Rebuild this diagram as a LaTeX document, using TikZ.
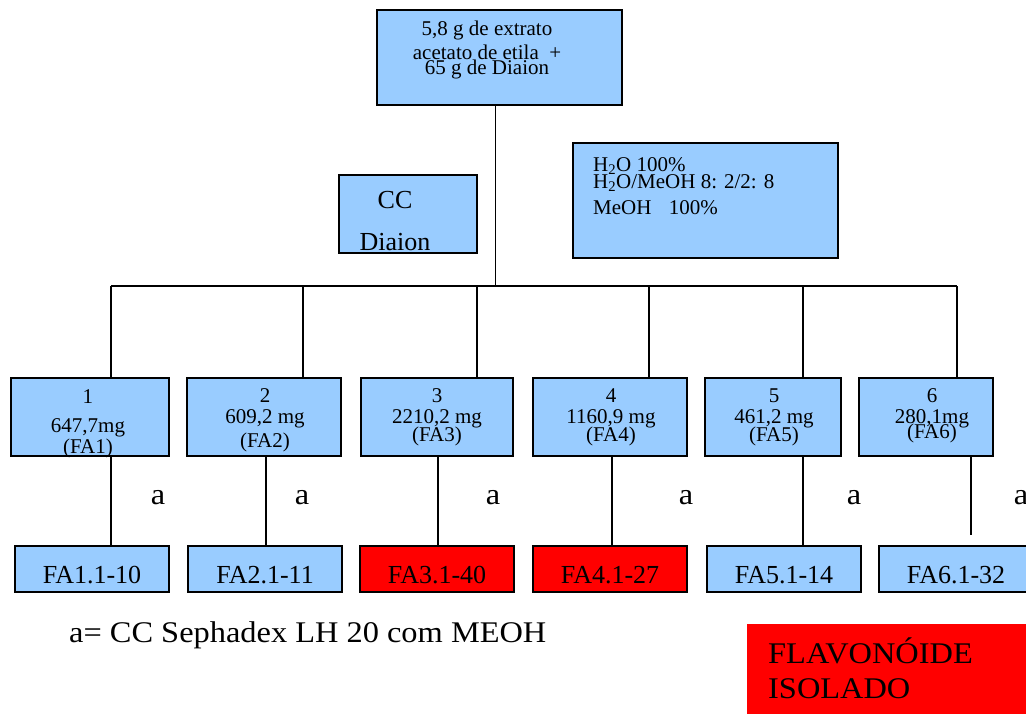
\documentclass[tikz,border=0pt]{standalone}
\usepackage{fontspec}
\setmainfont{Liberation Serif}
\newfontfamily\largafonte[FakeStretch=1.08]{Liberation Serif}
\definecolor{azulclaro}{RGB}{153,204,255}
\definecolor{vermelho}{RGB}{255,0,0}
\newcommand{\fontetopo}{\fontsize{21}{24}\selectfont}
\newcommand{\fontemedia}{\fontsize{21}{24}\selectfont}
\newcommand{\fontediaion}{\fontsize{26}{30}\selectfont}
\newcommand{\fontegrande}{\fontsize{26}{30}\selectfont}
\newcommand{\fontelegenda}{\largafonte\fontsize{30}{35}\selectfont}
\tikzset{
  caixa/.style={draw=black, line width=1.2pt, fill=azulclaro, inner sep=0pt},
  texto/.style={inner sep=0pt, align=center},
  liga/.style={line width=1.2pt},
}
\begin{document}
\begin{tikzpicture}[x=1pt, y=-1pt]
\useasboundingbox (0,0) rectangle (1026,713);
% caixas do topo
\node[caixa, minimum width=245, minimum height=95] (topo) at (499.5,57.5) {};
\node[texto, anchor=base, font=\fontetopo] (topotxt) at (487,74) {5,8 g de extrato\\ acetato de etila~ +\\[-9pt] 65 g de Diaion};
\node[caixa, minimum width=138, minimum height=78] (diaion) at (408,214) {};
\node[texto, anchor=base, font=\fontediaion] (diatxt) at (395,250) {CC\\[12pt] Diaion};
\node[caixa, minimum width=265, minimum height=115] (eluentes) at (705.5,200.5) {};
\node[texto, align=left, anchor=base west, font=\fontemedia] (eltxt) at (593,214) {H\textsubscript{2}O 100\%\\[-7pt] H\textsubscript{2}O/MeOH 8: 2/2: 8\\[2pt] MeOH\hspace{12pt} 100\%};
% fracoes
\foreach \i/\x/\w in {1/90/158, 2/264/154, 3/437/152, 4/610/154, 5/773/136, 6/926/134}
  \node[caixa, minimum width=\w, minimum height=78] (s\i) at (\x,417) {};
\node[texto, anchor=base, font=\fontemedia] (st1) at (88,453) {1\\[5pt] 647,7mg\\[-3pt] (FA1)};
\node[texto, anchor=base, font=\fontemedia] (st2) at (265,447) {2\\[-3pt] 609,2 mg\\ (FA2)};
\node[texto, anchor=base, font=\fontemedia] (st3) at (437,441) {3\\[-3pt] 2210,2 mg\\[-6pt] (FA3)};
\node[texto, anchor=base, font=\fontemedia] (st4) at (611,441) {4\\[-3pt] 1160,9 mg\\[-6pt] (FA4)};
\node[texto, anchor=base, font=\fontemedia] (st5) at (774,441) {5\\[-3pt] 461,2 mg\\[-6pt] (FA5)};
\node[texto, anchor=base, font=\fontemedia] (st6) at (932,438) {6\\[-3pt] 280,1mg\\[-9pt] (FA6)};
% subfracoes
\foreach \i/\x/\txt/\cor in {1/92/FA1.1-10/azulclaro, 2/265/FA2.1-11/azulclaro, 3/437/FA3.1-40/vermelho, 4/610/FA4.1-27/vermelho, 5/784/FA5.1-14/azulclaro, 6/956/FA6.1-32/azulclaro}
  \node[caixa, fill=\cor, minimum width=154, minimum height=46, font=\fontegrande, text height=28pt, text depth=0pt] (f\i) at (\x,569) {\txt};
\foreach \x [count=\i] in {158,302,493,686,854,1021}
  \node[inner sep=0pt, anchor=base, font=\fontelegenda] (a\i) at (\x,504) {a};
% ligacoes
\coordinate (barraE) at (111,286);
\coordinate (barraD) at (957,286);
\coordinate (fim6) at (971,535);
\draw[liga] (barraE) -- (barraD);
\draw[liga] ([xshift=-4]topo.south) -- ([xshift=-4]topo.south |- barraE);
\foreach \i/\dx in {1/21, 2/39, 3/40, 4/39, 5/30, 6/31}
  \draw[liga] ([xshift=\dx]s\i.north |- barraE) -- ([xshift=\dx]s\i.north);
\foreach \i/\dx in {1/21, 2/2, 3/1, 4/2, 5/30}
  \draw[liga] ([xshift=\dx]s\i.south) -- ([xshift=\dx]s\i.south |- f\i.north);
\draw[liga] (s6.south -| fim6) -- (fim6);
% legenda
\node[inner sep=0pt, anchor=base west, font=\fontelegenda] (legenda) at (69,642) {a= CC Sephadex LH 20 com MEOH};
\node[fill=vermelho, inner sep=0pt, minimum width=290, minimum height=95] (isolado) at (892,671.5) {};
\node[texto, align=left, anchor=base west, font=\fontelegenda] (isotxt) at (768,698) {FLAVONÓIDE\\ ISOLADO};
\end{tikzpicture}
\end{document}
